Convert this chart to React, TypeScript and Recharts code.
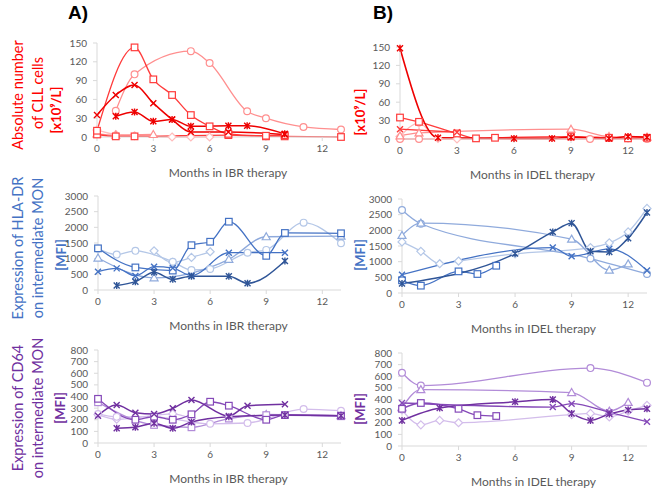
import { Line, LineChart, XAxis, YAxis } from 'recharts';

type Pt = [number, number];
type Shape = 'square' | 'circle' | 'triangle' | 'diamond' | 'cross' | 'star';

// tick labels
const monthTicks = [0, 3, 6, 9, 12];
const cllTicks = [0, 30, 60, 90, 120, 150];
const hlaTicks = [0, 500, 1000, 1500, 2000, 2500, 3000];
const cd64Ticks = [0, 100, 200, 300, 400, 500, 600, 700, 800];

// A) absolute number of CLL cells, IBR
const ibrCllSquare: Pt[] = [[0, 10], [2, 143], [3, 92], [4, 67], [5, 35], [6, 17], [7, 5], [9, 2], [10, 3]];
const ibrCllSquare2: Pt[] = [[0, 4], [1, 1], [2, 1], [7, 3], [9, 1], [10, 1], [13, 0]];
const ibrCllCircle: Pt[] = [[1, 42], [2, 100], [5, 137], [6, 118], [8, 41], [9, 30], [11, 16], [13, 12]];
const ibrCllCross: Pt[] = [[0, 35], [1, 67], [2, 83], [3, 54], [4, 28], [5, 8], [7, 8], [10, 4]];
const ibrCllStar: Pt[] = [[1, 33], [2, 40], [3, 25], [4, 28], [5, 17], [7, 18], [8, 18], [10, 5]];
const ibrCllTriangle: Pt[] = [[0, 5], [1, 3], [3, 4]];
const ibrCllDiamond: Pt[] = [[0, 11], [1, 4], [2, 2], [4, 0], [5, 0], [6, 0]];

// B) absolute number of CLL cells, IDEL
const idelCllStar: Pt[] = [[0, 148], [2, 2], [6, 1], [8, 1], [9, 3], [11, 1], [12, 4], [13, 3]];
const idelCllSquare: Pt[] = [[0, 35], [1, 28], [3, 9], [4, 1], [5, 2], [9, 4], [11, 2], [12, 1], [13, 2]];
const idelCllCross: Pt[] = [[0, 16], [3, 11]];
const idelCllTriangle: Pt[] = [[0, 5], [1, 10], [9, 16], [11, 4], [13, 3]];
const idelCllCircle: Pt[] = [[0, 0], [1, 0], [10, 0], [13, 0]];
const idelCllDiamond: Pt[] = [[0, 4], [1, 26], [2, 1], [3, 0]];

// A) HLA-DR, IBR
const ibrHlaSquare: Pt[] = [[0, 1330], [2, 720], [4, 620], [5, 1430], [6, 1540], [7, 2180], [9, 1090], [10, 1820], [13, 1810]];
const ibrHlaCircle: Pt[] = [[0, 1320], [1, 1130], [2, 1250], [4, 900], [5, 640], [6, 670], [8, 1190], [9, 1280], [11, 2150], [13, 1490]];
const ibrHlaDiamond: Pt[] = [[3, 1250], [4, 880], [5, 1040], [6, 1220]];
const ibrHlaTriangle: Pt[] = [[0, 1020], [3, 390], [7, 980], [9, 1700], [13, 1720]];
const ibrHlaCross: Pt[] = [[0, 585], [1, 690], [2, 450], [3, 745], [4, 700], [5, 460], [7, 1190], [10, 1190]];
const ibrHlaStar: Pt[] = [[1, 140], [2, 266], [3, 565], [4, 340], [5, 440], [7, 440], [8, 215], [10, 925]];

// B) HLA-DR, IDEL
const idelHlaCircle: Pt[] = [[0, 2650], [1, 2210], [10, 1100], [13, 610]];
const idelHlaTriangle: Pt[] = [[0, 1840], [1, 2230], [9, 1720], [11, 730], [12, 930]];
const idelHlaDiamond: Pt[] = [[0, 1630], [1, 1330], [2, 935], [3, 1020], [6, 1250], [10, 1450], [11, 1600], [12, 1950], [13, 2700]];
const idelHlaCross: Pt[] = [[0, 585], [8, 1450], [9, 1170], [11, 1410], [13, 720]];
const idelHlaStar: Pt[] = [[0, 300], [6, 1260], [8, 1950], [9, 2230], [10, 1330], [11, 1310], [12, 1750], [13, 2570]];
const idelHlaSquare: Pt[] = [[0, 405], [1, 234], [3, 690], [4, 606], [5, 870]];

// A) CD64, IBR
const ibrCdSquare: Pt[] = [[0, 380], [2, 200], [3, 226], [4, 200], [5, 247], [6, 355], [7, 321], [9, 200], [10, 240], [13, 235]];
const ibrCdSquare2: Pt[] = [[0, 350], [3, 155], [5, 135], [7, 210], [9, 240], [13, 230]];
const ibrCdCross: Pt[] = [[0, 235], [1, 327], [2, 261], [3, 250], [4, 298], [5, 370], [7, 232], [8, 321], [10, 333]];
const ibrCdStar: Pt[] = [[1, 126], [2, 135], [3, 170], [4, 126], [5, 180], [7, 225], [10, 240], [13, 235]];
const ibrCdCircle: Pt[] = [[0, 250], [1, 225], [3, 225], [6, 165], [8, 172], [11, 292], [13, 278]];
const ibrCdDiamond: Pt[] = [[0, 245], [1, 205], [4, 250], [5, 210]];
const ibrCdTriangle: Pt[] = [[9, 245], [13, 235]];

// B) CD64, IDEL
const idelCdCircle: Pt[] = [[0, 630], [1, 520], [10, 670], [13, 545]];
const idelCdTriangle: Pt[] = [[0, 330], [1, 485], [9, 460], [11, 300], [12, 375]];
const idelCdSquare: Pt[] = [[0, 320], [1, 370], [3, 320], [4, 265], [5, 258]];
const idelCdStar: Pt[] = [[0, 220], [2, 327], [6, 380], [8, 400], [9, 280], [10, 220], [11, 275], [12, 310], [13, 320]];
const idelCdCross: Pt[] = [[0, 370], [8, 335], [9, 364], [11, 290], [13, 209]];
const idelCdDiamond: Pt[] = [[0, 310], [1, 182], [2, 220], [3, 200], [9, 270], [10, 280], [11, 250], [12, 300], [13, 350]];

const RED = { dark: '#ee0000', mid: '#ff3b3b', light: '#ff8f8f', pale: '#ffbcbc' };
const BLUE = { dark: '#2f5597', mid: '#4472c4', light: '#8faadc', pale: '#b4c7e7' };
const PURPLE = { dark: '#7030a0', mid: '#8549b8', light: '#b28cd8', pale: '#d3bdeb' };

interface Series {
  name: string;
  data: Pt[];
  shape: Shape;
  color: string;
  width?: number;
}

function Marker({ cx, cy, shape, color }: { cx?: number; cy?: number; shape: Shape; color: string }) {
  if (cx == null || cy == null) return null;
  const common = { fill: '#fff', stroke: color, strokeWidth: 1.2 };
  switch (shape) {
    case 'square':
      return <rect x={cx - 3.3} y={cy - 3.3} width={6.6} height={6.6} {...common} />;
    case 'circle':
      return <circle cx={cx} cy={cy} r={3.4} {...common} />;
    case 'triangle':
      return <path d={`M${cx},${cy - 4} L${cx + 4},${cy + 3} L${cx - 4},${cy + 3} Z`} {...common} />;
    case 'diamond':
      return <path d={`M${cx},${cy - 4} L${cx + 4},${cy} L${cx},${cy + 4} L${cx - 4},${cy} Z`} {...common} />;
    case 'cross':
      return <path d={`M${cx - 3},${cy - 3} L${cx + 3},${cy + 3} M${cx + 3},${cy - 3} L${cx - 3},${cy + 3}`} stroke={color} strokeWidth={1.4} />;
    default:
      return (
        <path
          d={`M${cx - 3},${cy - 3} L${cx + 3},${cy + 3} M${cx + 3},${cy - 3} L${cx - 3},${cy + 3} M${cx},${cy - 3.5} L${cx},${cy + 3.5}`}
          stroke={color}
          strokeWidth={1.4}
        />
      );
  }
}

interface PanelProps {
  left: number;
  top: number;
  plotW: number;
  plotH: number;
  yMax: number;
  yTicks: number[];
  series: Series[];
  xLabel: string;
}

function Panel({ left, top, plotW, plotH, yMax, yTicks, series, xLabel }: PanelProps) {
  const mt = 10;
  const yw = 50;
  const mr = 14;
  const xh = 48;
  const axisStyle = { fontSize: 10, fill: '#595959', fontFamily: 'Lato' };
  return (
    <div style={{ position: 'absolute', left: left - yw, top: top - mt }}>
      <LineChart width={yw + plotW + mr} height={mt + plotH + xh} margin={{ top: mt, right: mr, bottom: 0, left: 0 }}>
        <XAxis
          type="number"
          dataKey="m"
          domain={[0, 13]}
          ticks={monthTicks}
          height={xh}
          tick={axisStyle}
          tickSize={4}
          tickMargin={4}
          stroke="#d9d9d9"
          label={{ value: xLabel, position: 'insideBottom', dx: 9, offset: 8, fill: '#595959', fontSize: 12, fontFamily: 'Lato' }}
        />
        <YAxis
          type="number"
          domain={[0, yMax]}
          ticks={yTicks}
          width={yw}
          tick={axisStyle}
          tickSize={4}
          tickMargin={6}
          stroke="#d9d9d9"
          interval={0}
        />
        {series.map((s) => (
          <Line
            key={s.name}
            data={s.data.map(([m, v]) => ({ m, v }))}
            dataKey="v"
            type="monotone"
            stroke={s.color}
            strokeWidth={s.width ?? 1.3}
            isAnimationActive={false}
            activeDot={false}
            dot={(p: any) => <Marker key={`${s.name}-${p.index}`} cx={p.cx} cy={p.cy} shape={s.shape} color={s.color} />}
          />
        ))}
      </LineChart>
    </div>
  );
}

const ibrCll: Series[] = [
  { name: 'diamond', data: ibrCllDiamond, shape: 'diamond', color: RED.pale },
  { name: 'triangle', data: ibrCllTriangle, shape: 'triangle', color: RED.light },
  { name: 'circle', data: ibrCllCircle, shape: 'circle', color: RED.light },
  { name: 'square2', data: ibrCllSquare2, shape: 'square', color: RED.mid },
  { name: 'square', data: ibrCllSquare, shape: 'square', color: RED.mid },
  { name: 'cross', data: ibrCllCross, shape: 'cross', color: RED.dark, width: 1.5 },
  { name: 'star', data: ibrCllStar, shape: 'star', color: RED.dark, width: 1.5 },
];

const idelCll: Series[] = [
  { name: 'diamond', data: idelCllDiamond, shape: 'diamond', color: RED.pale },
  { name: 'circle', data: idelCllCircle, shape: 'circle', color: RED.light },
  { name: 'triangle', data: idelCllTriangle, shape: 'triangle', color: RED.light },
  { name: 'square', data: idelCllSquare, shape: 'square', color: RED.mid },
  { name: 'cross', data: idelCllCross, shape: 'cross', color: RED.mid },
  { name: 'star', data: idelCllStar, shape: 'star', color: RED.dark, width: 1.6 },
];

const ibrHla: Series[] = [
  { name: 'diamond', data: ibrHlaDiamond, shape: 'diamond', color: BLUE.pale },
  { name: 'circle', data: ibrHlaCircle, shape: 'circle', color: BLUE.pale },
  { name: 'triangle', data: ibrHlaTriangle, shape: 'triangle', color: BLUE.light },
  { name: 'square', data: ibrHlaSquare, shape: 'square', color: BLUE.mid },
  { name: 'cross', data: ibrHlaCross, shape: 'cross', color: BLUE.mid },
  { name: 'star', data: ibrHlaStar, shape: 'star', color: BLUE.dark, width: 1.5 },
];

const idelHla: Series[] = [
  { name: 'diamond', data: idelHlaDiamond, shape: 'diamond', color: BLUE.pale },
  { name: 'circle', data: idelHlaCircle, shape: 'circle', color: BLUE.light },
  { name: 'triangle', data: idelHlaTriangle, shape: 'triangle', color: BLUE.light },
  { name: 'square', data: idelHlaSquare, shape: 'square', color: BLUE.mid },
  { name: 'cross', data: idelHlaCross, shape: 'cross', color: BLUE.mid },
  { name: 'star', data: idelHlaStar, shape: 'star', color: BLUE.dark, width: 1.5 },
];

const ibrCd: Series[] = [
  { name: 'diamond', data: ibrCdDiamond, shape: 'diamond', color: PURPLE.pale },
  { name: 'circle', data: ibrCdCircle, shape: 'circle', color: PURPLE.pale },
  { name: 'triangle', data: ibrCdTriangle, shape: 'triangle', color: PURPLE.light },
  { name: 'square2', data: ibrCdSquare2, shape: 'square', color: PURPLE.light },
  { name: 'square', data: ibrCdSquare, shape: 'square', color: PURPLE.mid },
  { name: 'cross', data: ibrCdCross, shape: 'cross', color: PURPLE.dark, width: 1.5 },
  { name: 'star', data: ibrCdStar, shape: 'star', color: PURPLE.dark, width: 1.5 },
];

const idelCd: Series[] = [
  { name: 'diamond', data: idelCdDiamond, shape: 'diamond', color: PURPLE.pale },
  { name: 'circle', data: idelCdCircle, shape: 'circle', color: PURPLE.light },
  { name: 'triangle', data: idelCdTriangle, shape: 'triangle', color: PURPLE.light },
  { name: 'square', data: idelCdSquare, shape: 'square', color: PURPLE.mid },
  { name: 'cross', data: idelCdCross, shape: 'cross', color: PURPLE.mid },
  { name: 'star', data: idelCdStar, shape: 'star', color: PURPLE.dark, width: 1.5 },
];

function VText({ x, y, color, children, size = 14, bold = false }: { x: number; y: number; color: string; children: any; size?: number; bold?: boolean }) {
  return (
    <text
      x={x}
      y={y}
      transform={`rotate(-90 ${x} ${y})`}
      textAnchor="middle"
      dominantBaseline="central"
      fill={color}
      fontSize={size}
      fontWeight={bold ? 700 : 400}
      fontFamily="Lato"
    >
      {children}
    </text>
  );
}

export default function App() {
  return (
    <div style={{ position: 'absolute', left: 0, top: 0, width: 660, height: 488, background: '#fff', fontFamily: 'Lato' }}>
      <svg width={660} height={488} style={{ position: 'absolute', left: 0, top: 0 }}>
        <text x={68} y={19} fontSize={19} fontWeight={700} fontFamily="Arial, Liberation Sans" fill="#000">A)</text>
        <text x={373} y={19} fontSize={19} fontWeight={700} fontFamily="Arial, Liberation Sans" fill="#000">B)</text>

        <VText x={17} y={95} color="#ff0000" size={14.5}>Absolute number</VText>
        <VText x={37} y={93} color="#ff0000" size={14.5}>of CLL cells</VText>
        <VText x={56} y={110} color="#ff0000" size={13} bold>[x10⁹/L]</VText>
        <VText x={360} y={112} color="#ff0000" size={13} bold>[x10⁹/L]</VText>

        <VText x={17} y={248} color="#4472c4" size={14.5}>Expression of HLA-DR</VText>
        <VText x={37} y={248} color="#4472c4" size={14.5}>on intermediate MON</VText>
        <VText x={61} y={255} color="#4472c4" size={13} bold>[MFI]</VText>
        <VText x={360} y={255} color="#4472c4" size={13} bold>[MFI]</VText>

        <VText x={17} y={408} color="#7030a0" size={14.5}>Expression of CD64</VText>
        <VText x={37} y={408} color="#7030a0" size={14.5}>on intermediate MON</VText>
        <VText x={60} y={408} color="#7030a0" size={13} bold>[MFI]</VText>
        <VText x={360} y={409} color="#7030a0" size={13} bold>[MFI]</VText>
      </svg>

      <Panel left={97} top={43} plotW={244} plotH={94} yMax={150} yTicks={cllTicks} series={ibrCll} xLabel="Months in IBR therapy" />
      <Panel left={400} top={47} plotW={247} plotH={92} yMax={150} yTicks={cllTicks} series={idelCll} xLabel="Months in IDEL therapy" />
      <Panel left={98} top={196} plotW={243} plotH={94} yMax={3000} yTicks={hlaTicks} series={ibrHla} xLabel="Months in IBR therapy" />
      <Panel left={402} top={199} plotW={245} plotH={94} yMax={3000} yTicks={hlaTicks} series={idelHla} xLabel="Months in IDEL therapy" />
      <Panel left={98} top={350} plotW={243} plotH={93} yMax={800} yTicks={cd64Ticks} series={ibrCd} xLabel="Months in IBR therapy" />
      <Panel left={402} top={353} plotW={245} plotH={93} yMax={800} yTicks={cd64Ticks} series={idelCd} xLabel="Months in IDEL therapy" />
    </div>
  );
}
